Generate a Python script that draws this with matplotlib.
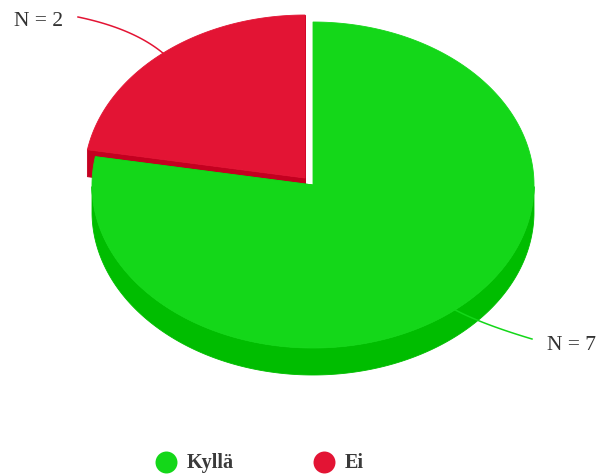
import numpy as np
import matplotlib.pyplot as plt
from matplotlib.patches import Polygon

# aineisto
labels = ['Kyllä', 'Ei']
values = [7, 2]
top_colors = ['#14d719', '#e31434']
side_colors = ['#00bd00', '#c40020']
explode = [0.0, 0.056]

# piirakan mitat pikseleinä
cx, cy = 313, 185
rx, ry = 221, 163
depth = 27

fig = plt.figure(figsize=(6, 4.75), dpi=100)
ax = fig.add_axes([0, 0, 1, 1])
ax.set_xlim(0, 600)
ax.set_ylim(475, 0)
ax.axis('off')


def rim(theta, ox, oy, dz=0.0):
    t = np.radians(theta)
    return np.column_stack([ox + rx * np.cos(t), oy - ry * np.sin(t) + dz])


def poly(pts, color, z):
    ax.add_patch(Polygon(pts, closed=True, facecolor=color, edgecolor=color,
                         linewidth=0.6, zorder=z))


total = float(sum(values))
slices = []
a = 90.0
for i, v in enumerate(values):
    span = 360.0 * v / total
    a1, a0 = a, a - span  # myötäpäivään klo 12:sta
    mid = (a0 + a1) / 2
    ox = cx + explode[i] * rx * np.cos(np.radians(mid))
    oy = cy - explode[i] * ry * np.sin(np.radians(mid))
    slices.append((i, a0, a1, mid, ox, oy))
    a = a0

# takimmaiset ensin
slices.sort(key=lambda s: -np.sin(np.radians(s[3])))

for k, (i, a0, a1, mid, ox, oy) in enumerate(slices):
    z = 1 + 3 * k
    # säteittäiset sivut
    for edge in (a0, a1):
        p = rim(np.array([edge]), ox, oy)[0]
        pts = [(ox, oy), tuple(p), (p[0], p[1] + depth), (ox, oy + depth)]
        poly(pts, side_colors[i], z)
    # etureuna (alapuolinen kaari)
    th = np.linspace(a0, a1, 400)
    th = th[np.sin(np.radians(th)) <= 0.0]
    if len(th) > 1:
        up = rim(th, ox, oy)
        down = rim(th[::-1], ox, oy, depth)
        poly(np.vstack([up, down]), side_colors[i], z + 1)
    # kansi
    th = np.linspace(a0, a1, 400)
    top = np.vstack([[ox, oy], rim(th, ox, oy)])
    poly(top, top_colors[i], z + 2)

# arvojen selitteet viivoineen
label_pos = {0: (532, 339), 1: (78, 17)}
text_pos = {0: (547, 345, 'left'), 1: (63, 22, 'right')}
for i, a0, a1, mid, ox, oy in slices:
    p0 = rim(np.array([mid]), ox, oy)[0]
    p2 = np.array(label_pos[i])
    p1 = p0 + 0.35 * (p2 - p0) + np.array([0, -12 if i == 1 else 4])
    t = np.linspace(0, 1, 50)[:, None]
    curve = (1 - t) ** 2 * p0 + 2 * (1 - t) * t * p1 + t ** 2 * p2
    ax.plot(curve[:, 0], curve[:, 1], color=top_colors[i], lw=1.1, zorder=20)
    x, y, ha = text_pos[i]
    ax.text(x, y, 'N = %d' % values[i], ha=ha, va='center', fontsize=15.5,
            family='Liberation Serif', color='#333333', zorder=21)

# selite
legend_x = [166, 324]
for i, lab in enumerate(labels):
    ax.scatter(legend_x[i], 462, s=250, color=top_colors[i], zorder=20, linewidths=0)
    ax.text(legend_x[i] + 21, 463, lab, ha='left', va='center', fontsize=14.5,
            fontweight='bold', family='Liberation Serif', color='#3a3a3a', zorder=21)

fig.savefig('out.png', dpi=100)
